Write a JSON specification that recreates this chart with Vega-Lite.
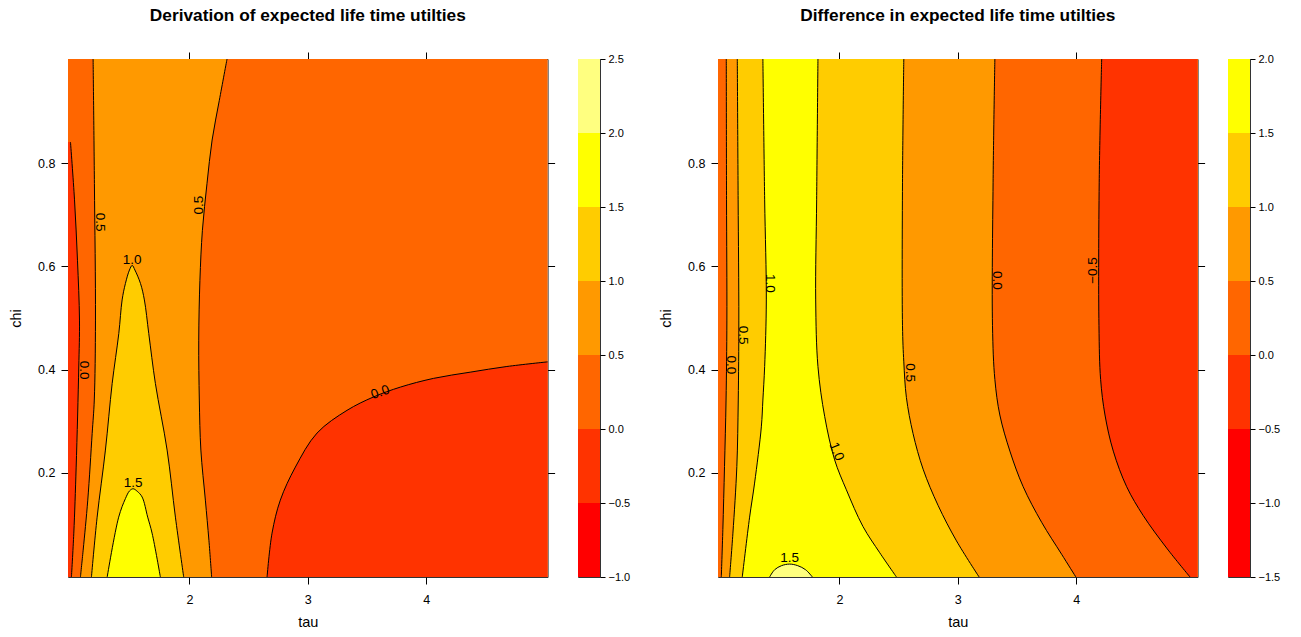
{
  "$schema": "https://vega.github.io/schema/vega-lite/v6.json",
  "padding": {"left": 8, "top": 6, "right": 5, "bottom": 5},
  "config": {
    "font": "Liberation Sans",
    "view": {"stroke": "#333", "strokeWidth": 1},
    "axis": {"grid": false, "domain": false, "tickColor": "#000", "labelColor": "#000", "titleColor": "#000", "tickWidth": 1, "labelFontSize": 12.5, "titleFontSize": 14.5, "titleFontWeight": "normal", "labelFont": "Liberation Sans", "titleFont": "Liberation Sans"},
    "title": {"fontSize": 17.3, "fontWeight": "bold", "color": "#000", "font": "Liberation Sans", "frame": "group", "anchor": "middle", "offset": 27}
  },
  "datasets": {
    "L": [
      {"c": "L0L", "tau": 0.996, "chi": 0.841}, {"c": "L0L", "tau": 1.030, "chi": 0.729}, {"c": "L0L", "tau": 1.055, "chi": 0.612}, {"c": "L0L", "tau": 1.072, "chi": 0.496}, {"c": "L0L", "tau": 1.066, "chi": 0.405}, {"c": "L0L", "tau": 1.044, "chi": 0.211}, {"c": "L0L", "tau": 1.024, "chi": 0.083}, {"c": "L0L", "tau": 1.004, "chi": -0.002},
      {"c": "L05L", "tau": 1.187, "chi": 1.002}, {"c": "L05L", "tau": 1.198, "chi": 0.761}, {"c": "L05L", "tau": 1.207, "chi": 0.496}, {"c": "L05L", "tau": 1.197, "chi": 0.341}, {"c": "L05L", "tau": 1.179, "chi": 0.276}, {"c": "L05L", "tau": 1.142, "chi": 0.147}, {"c": "L05L", "tau": 1.103, "chi": 0.050}, {"c": "L05L", "tau": 1.080, "chi": -0.002},
      {"c": "L05R", "tau": 2.318, "chi": 1.002}, {"c": "L05R", "tau": 2.253, "chi": 0.922}, {"c": "L05R", "tau": 2.192, "chi": 0.845}, {"c": "L05R", "tau": 2.149, "chi": 0.761}, {"c": "L05R", "tau": 2.110, "chi": 0.670}, {"c": "L05R", "tau": 2.089, "chi": 0.573}, {"c": "L05R", "tau": 2.079, "chi": 0.457}, {"c": "L05R", "tau": 2.084, "chi": 0.341}, {"c": "L05R", "tau": 2.097, "chi": 0.244}, {"c": "L05R", "tau": 2.135, "chi": 0.147}, {"c": "L05R", "tau": 2.165, "chi": 0.069}, {"c": "L05R", "tau": 2.188, "chi": -0.002},
      {"c": "L10", "tau": 1.173, "chi": -0.002}, {"c": "L10", "tau": 1.221, "chi": 0.114}, {"c": "L10", "tau": 1.291, "chi": 0.244}, {"c": "L10", "tau": 1.348, "chi": 0.373}, {"c": "L10", "tau": 1.404, "chi": 0.470}, {"c": "L10", "tau": 1.432, "chi": 0.535}, {"c": "L10", "tau": 1.460, "chi": 0.567}, {"c": "L10", "tau": 1.494, "chi": 0.593}, {"c": "L10", "tau": 1.517, "chi": 0.602}, {"c": "L10", "tau": 1.540, "chi": 0.593}, {"c": "L10", "tau": 1.587, "chi": 0.567}, {"c": "L10", "tau": 1.620, "chi": 0.535}, {"c": "L10", "tau": 1.657, "chi": 0.470}, {"c": "L10", "tau": 1.713, "chi": 0.373}, {"c": "L10", "tau": 1.812, "chi": 0.244}, {"c": "L10", "tau": 1.882, "chi": 0.114}, {"c": "L10", "tau": 1.952, "chi": -0.002},
      {"c": "L15", "tau": 1.306, "chi": -0.002}, {"c": "L15", "tau": 1.403, "chi": 0.114}, {"c": "L15", "tau": 1.460, "chi": 0.150}, {"c": "L15", "tau": 1.495, "chi": 0.165}, {"c": "L15", "tau": 1.525, "chi": 0.169}, {"c": "L15", "tau": 1.560, "chi": 0.164}, {"c": "L15", "tau": 1.601, "chi": 0.153}, {"c": "L15", "tau": 1.648, "chi": 0.114}, {"c": "L15", "tau": 1.685, "chi": 0.083}, {"c": "L15", "tau": 1.755, "chi": -0.002},
      {"c": "L0R", "tau": 2.656, "chi": -0.002}, {"c": "L0R", "tau": 2.698, "chi": 0.083}, {"c": "L0R", "tau": 2.768, "chi": 0.147}, {"c": "L0R", "tau": 2.895, "chi": 0.211}, {"c": "L0R", "tau": 3.078, "chi": 0.277}, {"c": "L0R", "tau": 3.331, "chi": 0.321}, {"c": "L0R", "tau": 3.555, "chi": 0.347}, {"c": "L0R", "tau": 3.781, "chi": 0.366}, {"c": "L0R", "tau": 4.062, "chi": 0.383}, {"c": "L0R", "tau": 4.371, "chi": 0.395}, {"c": "L0R", "tau": 4.681, "chi": 0.406}, {"c": "L0R", "tau": 5.025, "chi": 0.415}
    ],
    "R": [
      {"c": "R0L", "tau": 1.045, "chi": 1.002}, {"c": "R0L", "tau": 1.047, "chi": 0.729}, {"c": "R0L", "tau": 1.050, "chi": 0.496}, {"c": "R0L", "tau": 1.043, "chi": 0.341}, {"c": "R0L", "tau": 1.030, "chi": 0.212}, {"c": "R0L", "tau": 1.016, "chi": 0.090}, {"c": "R0L", "tau": 1.003, "chi": -0.002},
      {"c": "R05L", "tau": 1.138, "chi": 1.002}, {"c": "R05L", "tau": 1.145, "chi": 0.729}, {"c": "R05L", "tau": 1.151, "chi": 0.496}, {"c": "R05L", "tau": 1.146, "chi": 0.341}, {"c": "R05L", "tau": 1.134, "chi": 0.212}, {"c": "R05L", "tau": 1.101, "chi": 0.083}, {"c": "R05L", "tau": 1.073, "chi": -0.002},
      {"c": "R1L", "tau": 1.354, "chi": 1.002}, {"c": "R1L", "tau": 1.369, "chi": 0.729}, {"c": "R1L", "tau": 1.383, "chi": 0.535}, {"c": "R1L", "tau": 1.369, "chi": 0.406}, {"c": "R1L", "tau": 1.354, "chi": 0.341}, {"c": "R1L", "tau": 1.341, "chi": 0.289}, {"c": "R1L", "tau": 1.284, "chi": 0.180}, {"c": "R1L", "tau": 1.242, "chi": 0.114}, {"c": "R1L", "tau": 1.180, "chi": -0.002},
      {"c": "R1R", "tau": 1.819, "chi": 1.002}, {"c": "R1R", "tau": 1.808, "chi": 0.729}, {"c": "R1R", "tau": 1.800, "chi": 0.535}, {"c": "R1R", "tau": 1.819, "chi": 0.406}, {"c": "R1R", "tau": 1.876, "chi": 0.309}, {"c": "R1R", "tau": 1.960, "chi": 0.225}, {"c": "R1R", "tau": 2.059, "chi": 0.167}, {"c": "R1R", "tau": 2.199, "chi": 0.096}, {"c": "R1R", "tau": 2.341, "chi": 0.045}, {"c": "R1R", "tau": 2.482, "chi": -0.002},
      {"c": "R15", "tau": 1.411, "chi": -0.002}, {"c": "R15", "tau": 1.453, "chi": 0.012}, {"c": "R15", "tau": 1.512, "chi": 0.020}, {"c": "R15", "tau": 1.580, "chi": 0.023}, {"c": "R15", "tau": 1.648, "chi": 0.020}, {"c": "R15", "tau": 1.715, "chi": 0.012}, {"c": "R15", "tau": 1.772, "chi": -0.002},
      {"c": "R05R", "tau": 2.544, "chi": 1.002}, {"c": "R05R", "tau": 2.533, "chi": 0.762}, {"c": "R05R", "tau": 2.533, "chi": 0.485}, {"c": "R05R", "tau": 2.544, "chi": 0.415}, {"c": "R05R", "tau": 2.566, "chi": 0.346}, {"c": "R05R", "tau": 2.622, "chi": 0.276}, {"c": "R05R", "tau": 2.707, "chi": 0.207}, {"c": "R05R", "tau": 2.833, "chi": 0.137}, {"c": "R05R", "tau": 2.989, "chi": 0.068}, {"c": "R05R", "tau": 3.180, "chi": -0.002},
      {"c": "R0R", "tau": 3.313, "chi": 1.002}, {"c": "R0R", "tau": 3.298, "chi": 0.762}, {"c": "R0R", "tau": 3.293, "chi": 0.485}, {"c": "R0R", "tau": 3.313, "chi": 0.381}, {"c": "R0R", "tau": 3.355, "chi": 0.312}, {"c": "R0R", "tau": 3.440, "chi": 0.242}, {"c": "R0R", "tau": 3.552, "chi": 0.173}, {"c": "R0R", "tau": 3.708, "chi": 0.104}, {"c": "R0R", "tau": 3.877, "chi": 0.042}, {"c": "R0R", "tau": 3.997, "chi": -0.002},
      {"c": "Rm05", "tau": 4.215, "chi": 1.002}, {"c": "Rm05", "tau": 4.194, "chi": 0.762}, {"c": "Rm05", "tau": 4.192, "chi": 0.485}, {"c": "Rm05", "tau": 4.206, "chi": 0.381}, {"c": "Rm05", "tau": 4.243, "chi": 0.312}, {"c": "Rm05", "tau": 4.313, "chi": 0.242}, {"c": "Rm05", "tau": 4.426, "chi": 0.173}, {"c": "Rm05", "tau": 4.566, "chi": 0.117}, {"c": "Rm05", "tau": 4.764, "chi": 0.054}, {"c": "Rm05", "tau": 4.961, "chi": -0.002}
    ],
    "labL": [
      {"c": "L0L", "t": "0.0", "tau": 1.114, "chi": 0.399},
      {"c": "L05L", "t": "0.5", "tau": 1.249, "chi": 0.686},
      {"c": "L10", "t": "1.0", "tau": 1.517, "chi": 0.612},
      {"c": "L15", "t": "1.5", "tau": 1.525, "chi": 0.180},
      {"c": "L05R", "t": "0.5", "tau": 2.079, "chi": 0.719},
      {"c": "L0R", "t": "0.0", "tau": 3.612, "chi": 0.356}
    ],
    "labR": [
      {"c": "R1L", "t": "1.0", "tau": 1.417, "chi": 0.567},
      {"c": "R05L", "t": "0.5", "tau": 1.185, "chi": 0.467},
      {"c": "R0L", "t": "0.0", "tau": 1.087, "chi": 0.409},
      {"c": "R15", "t": "1.5", "tau": 1.580, "chi": 0.034},
      {"c": "R1R", "t": "1.0", "tau": 1.975, "chi": 0.241},
      {"c": "R05R", "t": "0.5", "tau": 2.594, "chi": 0.394},
      {"c": "R0R", "t": "0.0", "tau": 3.332, "chi": 0.573},
      {"c": "Rm05", "t": "−0.5", "tau": 4.144, "chi": 0.592}
    ],
    "barL": [
      {"lo": -1.0, "hi": -0.5}, {"lo": -0.5, "hi": 0.0}, {"lo": 0.0, "hi": 0.5}, {"lo": 0.5, "hi": 1.0}, {"lo": 1.0, "hi": 1.5}, {"lo": 1.5, "hi": 2.0}, {"lo": 2.0, "hi": 2.5}
    ],
    "barR": [
      {"lo": -1.5, "hi": -1.0}, {"lo": -1.0, "hi": -0.5}, {"lo": -0.5, "hi": 0.0}, {"lo": 0.0, "hi": 0.5}, {"lo": 0.5, "hi": 1.0}, {"lo": 1.0, "hi": 1.5}, {"lo": 1.5, "hi": 2.0}
    ]
  },
  "spacing": 27,
  "hconcat": [
    {
      "spacing": 30,
      "bounds": "flush",
      "hconcat": [
        {
          "width": 479.6,
          "height": 518,
          "title": "Derivation of expected life time utilties",
          "layer": [
            {"data": {"values": [{}]}, "mark": {"type": "rect", "color": "#FF6600"},
             "encoding": {
               "x": {"datum": 0.975, "type": "quantitative", "scale": {"domain": [0.975, 5.025], "nice": false, "zero": false}, "axis": {"orient": "bottom", "values": [2, 3, 4], "title": "tau", "tickSize": 7, "labelPadding": 9, "titlePadding": 10}},
               "x2": {"datum": 5.025},
               "y": {"datum": -0.002, "type": "quantitative", "scale": {"domain": [-0.002, 1.002], "nice": false, "zero": false}, "axis": {"orient": "left", "values": [0.2, 0.4, 0.6, 0.8], "title": "chi", "tickSize": 7, "labelPadding": 6, "titlePadding": 14}},
               "y2": {"datum": 1.002}}},
            {"data": {"values": [{}]}, "mark": {"type": "rect", "opacity": 0},
             "encoding": {
               "x": {"datum": 0.975, "type": "quantitative", "scale": {"domain": [0.975, 5.025], "nice": false, "zero": false}, "axis": {"orient": "top", "values": [2, 3, 4], "title": null, "labels": false, "tickSize": 7}},
               "x2": {"datum": 5.025},
               "y": {"datum": -0.002, "type": "quantitative", "scale": {"domain": [-0.002, 1.002], "nice": false, "zero": false}, "axis": {"orient": "right", "values": [0.2, 0.4, 0.6, 0.8], "title": null, "labels": false, "tickSize": 7}},
               "y2": {"datum": 1.002}}},
            {"data": {"name": "L"}, "transform": [{"filter": "datum.c == 'L05R'"}],
             "mark": {"type": "area", "orient": "horizontal", "color": "#FF9900", "opacity": 1, "interpolate": "catmull-rom"},
             "encoding": {"y": {"field": "chi", "type": "quantitative", "scale": {"domain": [-0.002, 1.002], "nice": false, "zero": false}, "axis": null}, "x": {"field": "tau", "type": "quantitative", "scale": {"domain": [0.975, 5.025], "nice": false, "zero": false}, "axis": null}, "x2": {"datum": 0.975}}},
            {"data": {"name": "L"}, "transform": [{"filter": "datum.c == 'L05L'"}],
             "mark": {"type": "area", "orient": "horizontal", "color": "#FF6600", "opacity": 1, "interpolate": "catmull-rom"},
             "encoding": {"y": {"field": "chi", "type": "quantitative", "scale": {"domain": [-0.002, 1.002], "nice": false, "zero": false}, "axis": null}, "x": {"field": "tau", "type": "quantitative", "scale": {"domain": [0.975, 5.025], "nice": false, "zero": false}, "axis": null}, "x2": {"datum": 0.975}}},
            {"data": {"name": "L"}, "transform": [{"filter": "datum.c == 'L0L'"}],
             "mark": {"type": "area", "orient": "horizontal", "color": "#FF3300", "opacity": 1, "interpolate": "catmull-rom"},
             "encoding": {"y": {"field": "chi", "type": "quantitative", "scale": {"domain": [-0.002, 1.002], "nice": false, "zero": false}, "axis": null}, "x": {"field": "tau", "type": "quantitative", "scale": {"domain": [0.975, 5.025], "nice": false, "zero": false}, "axis": null}, "x2": {"datum": 0.975}}},
            {"data": {"name": "L"}, "transform": [{"filter": "datum.c == 'L10'"}],
             "mark": {"type": "area", "orient": "vertical", "color": "#FFCC00", "opacity": 1, "interpolate": "catmull-rom"},
             "encoding": {"x": {"field": "tau", "type": "quantitative", "scale": {"domain": [0.975, 5.025], "nice": false, "zero": false}, "axis": null}, "y": {"field": "chi", "type": "quantitative", "scale": {"domain": [-0.002, 1.002], "nice": false, "zero": false}, "axis": null}, "y2": {"datum": -0.002}}},
            {"data": {"name": "L"}, "transform": [{"filter": "datum.c == 'L15'"}],
             "mark": {"type": "area", "orient": "vertical", "color": "#FFFF00", "opacity": 1, "interpolate": "catmull-rom"},
             "encoding": {"x": {"field": "tau", "type": "quantitative", "scale": {"domain": [0.975, 5.025], "nice": false, "zero": false}, "axis": null}, "y": {"field": "chi", "type": "quantitative", "scale": {"domain": [-0.002, 1.002], "nice": false, "zero": false}, "axis": null}, "y2": {"datum": -0.002}}},
            {"data": {"name": "L"}, "transform": [{"filter": "datum.c == 'L0R'"}],
             "mark": {"type": "area", "orient": "vertical", "color": "#FF3300", "opacity": 1, "interpolate": "catmull-rom"},
             "encoding": {"x": {"field": "tau", "type": "quantitative", "scale": {"domain": [0.975, 5.025], "nice": false, "zero": false}, "axis": null}, "y": {"field": "chi", "type": "quantitative", "scale": {"domain": [-0.002, 1.002], "nice": false, "zero": false}, "axis": null}, "y2": {"datum": -0.002}}},
            {"data": {"name": "L"}, "transform": [{"filter": {"field": "c", "oneOf": ["L0L", "L05L", "L05R"]}}],
             "mark": {"type": "line", "color": "#000", "strokeWidth": 1, "interpolate": "catmull-rom"},
             "encoding": {"x": {"field": "tau", "type": "quantitative", "scale": {"domain": [0.975, 5.025], "nice": false, "zero": false}, "axis": null}, "y": {"field": "chi", "type": "quantitative", "scale": {"domain": [-0.002, 1.002], "nice": false, "zero": false}, "axis": null}, "detail": {"field": "c"}, "order": {"field": "chi", "type": "quantitative"}}},
            {"data": {"name": "L"}, "transform": [{"filter": {"field": "c", "oneOf": ["L10", "L15", "L0R"]}}],
             "mark": {"type": "line", "color": "#000", "strokeWidth": 1, "interpolate": "catmull-rom"},
             "encoding": {"x": {"field": "tau", "type": "quantitative", "scale": {"domain": [0.975, 5.025], "nice": false, "zero": false}, "axis": null}, "y": {"field": "chi", "type": "quantitative", "scale": {"domain": [-0.002, 1.002], "nice": false, "zero": false}, "axis": null}, "detail": {"field": "c"}, "order": {"field": "tau", "type": "quantitative"}}},
            {"data": {"name": "labL"}, "transform": [{"filter": {"field": "c", "oneOf": ["L0L", "L05L"]}}],
             "mark": {"type": "text", "angle": 90, "fontSize": 13.5, "color": "#000"},
             "encoding": {"x": {"field": "tau", "type": "quantitative", "scale": {"domain": [0.975, 5.025], "nice": false, "zero": false}, "axis": null}, "y": {"field": "chi", "type": "quantitative", "scale": {"domain": [-0.002, 1.002], "nice": false, "zero": false}, "axis": null}, "text": {"field": "t"}}},
            {"data": {"name": "labL"}, "transform": [{"filter": {"field": "c", "oneOf": ["L05R"]}}],
             "mark": {"type": "text", "angle": 270, "fontSize": 13.5, "color": "#000"},
             "encoding": {"x": {"field": "tau", "type": "quantitative", "scale": {"domain": [0.975, 5.025], "nice": false, "zero": false}, "axis": null}, "y": {"field": "chi", "type": "quantitative", "scale": {"domain": [-0.002, 1.002], "nice": false, "zero": false}, "axis": null}, "text": {"field": "t"}}},
            {"data": {"name": "labL"}, "transform": [{"filter": {"field": "c", "oneOf": ["L10", "L15"]}}],
             "mark": {"type": "text", "angle": 0, "fontSize": 13.5, "color": "#000"},
             "encoding": {"x": {"field": "tau", "type": "quantitative", "scale": {"domain": [0.975, 5.025], "nice": false, "zero": false}, "axis": null}, "y": {"field": "chi", "type": "quantitative", "scale": {"domain": [-0.002, 1.002], "nice": false, "zero": false}, "axis": null}, "text": {"field": "t"}}},
            {"data": {"name": "labL"}, "transform": [{"filter": {"field": "c", "oneOf": ["L0R"]}}],
             "mark": {"type": "text", "angle": 340, "fontSize": 13.5, "color": "#000"},
             "encoding": {"x": {"field": "tau", "type": "quantitative", "scale": {"domain": [0.975, 5.025], "nice": false, "zero": false}, "axis": null}, "y": {"field": "chi", "type": "quantitative", "scale": {"domain": [-0.002, 1.002], "nice": false, "zero": false}, "axis": null}, "text": {"field": "t"}}}
          ]
        },
        {
          "width": 22,
          "height": 518,
          "data": {"name": "barL"},
          "mark": {"type": "rect"},
          "encoding": {
            "x": {"datum": 0, "type": "quantitative", "scale": {"domain": [0, 1], "nice": false, "zero": false}, "axis": null},
            "x2": {"datum": 1},
            "y": {"field": "lo", "type": "quantitative", "scale": {"domain": [-1, 2.5], "nice": false, "zero": false}, "axis": {"orient": "right", "values": [-1, -0.5, 0, 0.5, 1, 1.5, 2, 2.5], "labelExpr": "replace(format(datum.value, '.1f'), '-', '−')", "tickSize": 5, "labelPadding": 3, "labelFontSize": 11, "title": null}},
            "y2": {"field": "hi"},
            "color": {"field": "lo", "type": "ordinal", "scale": {"domain": [-1, -0.5, 0, 0.5, 1, 1.5, 2], "range": ["#FF0000", "#FF3300", "#FF6600", "#FF9900", "#FFCC00", "#FFFF00", "#FFFF80"]}, "legend": null}
          }
        }
      ]
    },
    {
      "spacing": 30,
      "bounds": "flush",
      "hconcat": [
        {
          "width": 479.6,
          "height": 518,
          "title": "Difference in expected life time utilties",
          "layer": [
            {"data": {"values": [{}]}, "mark": {"type": "rect", "color": "#FFCC00"},
             "encoding": {
               "x": {"datum": 0.975, "type": "quantitative", "scale": {"domain": [0.975, 5.025], "nice": false, "zero": false}, "axis": {"orient": "bottom", "values": [2, 3, 4], "title": "tau", "tickSize": 7, "labelPadding": 9, "titlePadding": 10}},
               "x2": {"datum": 5.025},
               "y": {"datum": -0.002, "type": "quantitative", "scale": {"domain": [-0.002, 1.002], "nice": false, "zero": false}, "axis": {"orient": "left", "values": [0.2, 0.4, 0.6, 0.8], "title": "chi", "tickSize": 7, "labelPadding": 6, "titlePadding": 14}},
               "y2": {"datum": 1.002}}},
            {"data": {"values": [{}]}, "mark": {"type": "rect", "opacity": 0},
             "encoding": {
               "x": {"datum": 0.975, "type": "quantitative", "scale": {"domain": [0.975, 5.025], "nice": false, "zero": false}, "axis": {"orient": "top", "values": [2, 3, 4], "title": null, "labels": false, "tickSize": 7}},
               "x2": {"datum": 5.025},
               "y": {"datum": -0.002, "type": "quantitative", "scale": {"domain": [-0.002, 1.002], "nice": false, "zero": false}, "axis": {"orient": "right", "values": [0.2, 0.4, 0.6, 0.8], "title": null, "labels": false, "tickSize": 7}},
               "y2": {"datum": 1.002}}},
            {"data": {"name": "R"}, "transform": [{"filter": "datum.c == 'R1R'"}],
             "mark": {"type": "area", "orient": "horizontal", "color": "#FFFF00", "opacity": 1, "interpolate": "catmull-rom"},
             "encoding": {"y": {"field": "chi", "type": "quantitative", "scale": {"domain": [-0.002, 1.002], "nice": false, "zero": false}, "axis": null}, "x": {"field": "tau", "type": "quantitative", "scale": {"domain": [0.975, 5.025], "nice": false, "zero": false}, "axis": null}, "x2": {"datum": 0.975}}},
            {"data": {"name": "R"}, "transform": [{"filter": "datum.c == 'R1L'"}],
             "mark": {"type": "area", "orient": "horizontal", "color": "#FFCC00", "opacity": 1, "interpolate": "catmull-rom"},
             "encoding": {"y": {"field": "chi", "type": "quantitative", "scale": {"domain": [-0.002, 1.002], "nice": false, "zero": false}, "axis": null}, "x": {"field": "tau", "type": "quantitative", "scale": {"domain": [0.975, 5.025], "nice": false, "zero": false}, "axis": null}, "x2": {"datum": 0.975}}},
            {"data": {"name": "R"}, "transform": [{"filter": "datum.c == 'R05L'"}],
             "mark": {"type": "area", "orient": "horizontal", "color": "#FF9900", "opacity": 1, "interpolate": "catmull-rom"},
             "encoding": {"y": {"field": "chi", "type": "quantitative", "scale": {"domain": [-0.002, 1.002], "nice": false, "zero": false}, "axis": null}, "x": {"field": "tau", "type": "quantitative", "scale": {"domain": [0.975, 5.025], "nice": false, "zero": false}, "axis": null}, "x2": {"datum": 0.975}}},
            {"data": {"name": "R"}, "transform": [{"filter": "datum.c == 'R0L'"}],
             "mark": {"type": "area", "orient": "horizontal", "color": "#FF6600", "opacity": 1, "interpolate": "catmull-rom"},
             "encoding": {"y": {"field": "chi", "type": "quantitative", "scale": {"domain": [-0.002, 1.002], "nice": false, "zero": false}, "axis": null}, "x": {"field": "tau", "type": "quantitative", "scale": {"domain": [0.975, 5.025], "nice": false, "zero": false}, "axis": null}, "x2": {"datum": 0.975}}},
            {"data": {"name": "R"}, "transform": [{"filter": "datum.c == 'R05R'"}],
             "mark": {"type": "area", "orient": "horizontal", "color": "#FF9900", "opacity": 1, "interpolate": "catmull-rom"},
             "encoding": {"y": {"field": "chi", "type": "quantitative", "scale": {"domain": [-0.002, 1.002], "nice": false, "zero": false}, "axis": null}, "x": {"field": "tau", "type": "quantitative", "scale": {"domain": [0.975, 5.025], "nice": false, "zero": false}, "axis": null}, "x2": {"datum": 5.025}}},
            {"data": {"name": "R"}, "transform": [{"filter": "datum.c == 'R0R'"}],
             "mark": {"type": "area", "orient": "horizontal", "color": "#FF6600", "opacity": 1, "interpolate": "catmull-rom"},
             "encoding": {"y": {"field": "chi", "type": "quantitative", "scale": {"domain": [-0.002, 1.002], "nice": false, "zero": false}, "axis": null}, "x": {"field": "tau", "type": "quantitative", "scale": {"domain": [0.975, 5.025], "nice": false, "zero": false}, "axis": null}, "x2": {"datum": 5.025}}},
            {"data": {"name": "R"}, "transform": [{"filter": "datum.c == 'Rm05'"}],
             "mark": {"type": "area", "orient": "horizontal", "color": "#FF3300", "opacity": 1, "interpolate": "catmull-rom"},
             "encoding": {"y": {"field": "chi", "type": "quantitative", "scale": {"domain": [-0.002, 1.002], "nice": false, "zero": false}, "axis": null}, "x": {"field": "tau", "type": "quantitative", "scale": {"domain": [0.975, 5.025], "nice": false, "zero": false}, "axis": null}, "x2": {"datum": 5.025}}},
            {"data": {"name": "R"}, "transform": [{"filter": "datum.c == 'R15'"}],
             "mark": {"type": "area", "orient": "vertical", "color": "#FFFF80", "opacity": 1, "interpolate": "catmull-rom"},
             "encoding": {"x": {"field": "tau", "type": "quantitative", "scale": {"domain": [0.975, 5.025], "nice": false, "zero": false}, "axis": null}, "y": {"field": "chi", "type": "quantitative", "scale": {"domain": [-0.002, 1.002], "nice": false, "zero": false}, "axis": null}, "y2": {"datum": -0.002}}},
            {"data": {"name": "R"}, "transform": [{"filter": {"field": "c", "oneOf": ["R0L", "R05L", "R1L", "R1R", "R05R", "R0R", "Rm05"]}}],
             "mark": {"type": "line", "color": "#000", "strokeWidth": 1, "interpolate": "catmull-rom"},
             "encoding": {"x": {"field": "tau", "type": "quantitative", "scale": {"domain": [0.975, 5.025], "nice": false, "zero": false}, "axis": null}, "y": {"field": "chi", "type": "quantitative", "scale": {"domain": [-0.002, 1.002], "nice": false, "zero": false}, "axis": null}, "detail": {"field": "c"}, "order": {"field": "chi", "type": "quantitative"}}},
            {"data": {"name": "R"}, "transform": [{"filter": "datum.c == 'R15'"}],
             "mark": {"type": "line", "color": "#000", "strokeWidth": 1, "interpolate": "catmull-rom"},
             "encoding": {"x": {"field": "tau", "type": "quantitative", "scale": {"domain": [0.975, 5.025], "nice": false, "zero": false}, "axis": null}, "y": {"field": "chi", "type": "quantitative", "scale": {"domain": [-0.002, 1.002], "nice": false, "zero": false}, "axis": null}, "order": {"field": "tau", "type": "quantitative"}}},
            {"data": {"name": "labR"}, "transform": [{"filter": {"field": "c", "oneOf": ["R1L", "R05L", "R0L", "R05R", "R0R"]}}],
             "mark": {"type": "text", "angle": 90, "fontSize": 13.5, "color": "#000"},
             "encoding": {"x": {"field": "tau", "type": "quantitative", "scale": {"domain": [0.975, 5.025], "nice": false, "zero": false}, "axis": null}, "y": {"field": "chi", "type": "quantitative", "scale": {"domain": [-0.002, 1.002], "nice": false, "zero": false}, "axis": null}, "text": {"field": "t"}}},
            {"data": {"name": "labR"}, "transform": [{"filter": {"field": "c", "oneOf": ["Rm05"]}}],
             "mark": {"type": "text", "angle": 270, "fontSize": 13.5, "color": "#000"},
             "encoding": {"x": {"field": "tau", "type": "quantitative", "scale": {"domain": [0.975, 5.025], "nice": false, "zero": false}, "axis": null}, "y": {"field": "chi", "type": "quantitative", "scale": {"domain": [-0.002, 1.002], "nice": false, "zero": false}, "axis": null}, "text": {"field": "t"}}},
            {"data": {"name": "labR"}, "transform": [{"filter": {"field": "c", "oneOf": ["R15"]}}],
             "mark": {"type": "text", "angle": 0, "fontSize": 13.5, "color": "#000"},
             "encoding": {"x": {"field": "tau", "type": "quantitative", "scale": {"domain": [0.975, 5.025], "nice": false, "zero": false}, "axis": null}, "y": {"field": "chi", "type": "quantitative", "scale": {"domain": [-0.002, 1.002], "nice": false, "zero": false}, "axis": null}, "text": {"field": "t"}}},
            {"data": {"name": "labR"}, "transform": [{"filter": {"field": "c", "oneOf": ["R1R"]}}],
             "mark": {"type": "text", "angle": 68, "fontSize": 13.5, "color": "#000"},
             "encoding": {"x": {"field": "tau", "type": "quantitative", "scale": {"domain": [0.975, 5.025], "nice": false, "zero": false}, "axis": null}, "y": {"field": "chi", "type": "quantitative", "scale": {"domain": [-0.002, 1.002], "nice": false, "zero": false}, "axis": null}, "text": {"field": "t"}}}
          ]
        },
        {
          "width": 22,
          "height": 518,
          "data": {"name": "barR"},
          "mark": {"type": "rect"},
          "encoding": {
            "x": {"datum": 0, "type": "quantitative", "scale": {"domain": [0, 1], "nice": false, "zero": false}, "axis": null},
            "x2": {"datum": 1},
            "y": {"field": "lo", "type": "quantitative", "scale": {"domain": [-1.5, 2.0], "nice": false, "zero": false}, "axis": {"orient": "right", "values": [-1.5, -1, -0.5, 0, 0.5, 1, 1.5, 2], "labelExpr": "replace(format(datum.value, '.1f'), '-', '−')", "tickSize": 5, "labelPadding": 3, "labelFontSize": 11, "title": null}},
            "y2": {"field": "hi"},
            "color": {"field": "lo", "type": "ordinal", "scale": {"domain": [-1.5, -1, -0.5, 0, 0.5, 1, 1.5], "range": ["#FF0000", "#FF3300", "#FF6600", "#FF9900", "#FFCC00", "#FFFF00", "#FFFF80"]}, "legend": null}
          }
        }
      ]
    }
  ]
}
